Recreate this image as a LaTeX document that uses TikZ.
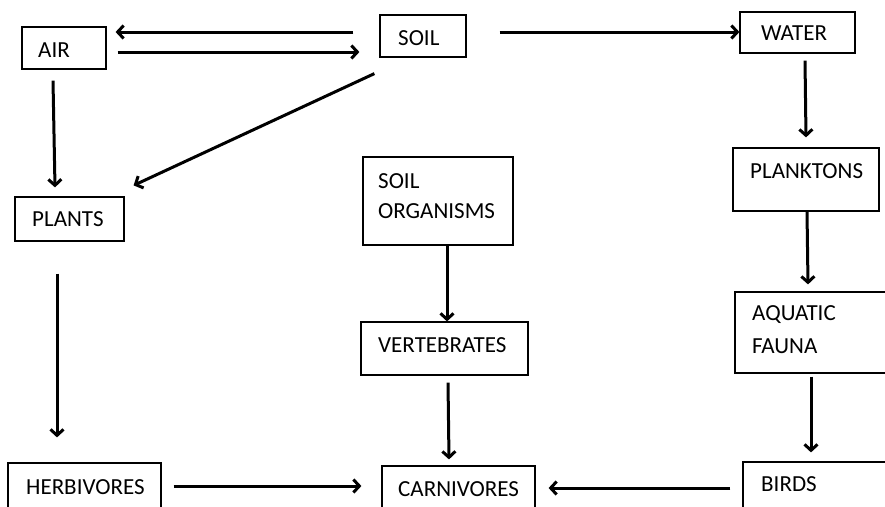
\documentclass[tikz,border=0pt]{standalone}
\usepackage{fontspec}
\setmainfont{Carlito}
\usetikzlibrary{arrows.meta}
\begin{document}
\begin{tikzpicture}[x=1pt,y=-1pt,
  box/.style={draw=black, line width=1.2pt, rectangle, inner sep=0pt},
  txt/.style={inner sep=0pt, anchor=base west, align=left, font=\fontsize{23}{30}\selectfont},
  arr/.style={line width=3pt, -{Straight Barb[length=6pt,width=13pt]}}]
\useasboundingbox (0,0) rectangle (885,506);
\fill[white] (0,0) rectangle (885,506);
\clip (0,0) rectangle (885,506);
% boxes
\node[box, minimum width=84pt,  minimum height=42pt] (air)     at (64,48) {};
\node[box, minimum width=86pt,  minimum height=42pt] (soil)    at (423,36) {};
\node[box, minimum width=115pt, minimum height=41pt] (water)   at (797.5,32.5) {};
\node[box, minimum width=146pt, minimum height=63pt] (plankt)  at (806,179.5) {};
\node[box, minimum width=170pt, minimum height=81pt] (aqua)    at (820,332.5) {};
\node[box, minimum width=162pt, minimum height=68pt] (birds)   at (824,496) {};
\node[box, minimum width=109pt, minimum height=44pt] (plants)  at (69.5,219) {};
\node[box, minimum width=150pt, minimum height=88pt] (soilorg) at (438,201) {};
\node[box, minimum width=167pt, minimum height=53pt] (vert)    at (444.5,348.5) {};
\node[box, minimum width=153pt, minimum height=67pt] (herb)    at (84.5,496.5) {};
\node[box, minimum width=153pt, minimum height=64pt] (carn)    at (458.5,498) {};
% texts
\node[txt] (airt)     at (38,57)   {AIR};
\node[txt] (soilt)    at (398,45)  {SOIL};
\node[txt] (watert)   at (761,40)  {WATER};
\node[txt] (planktt)  at (750,178) {PLANKTONS};
\node[txt] (aquat1)   at (752,320) {AQUATIC};
\node[txt] (aquat2)   at (752,353) {FAUNA};
\node[txt] (birdst)   at (761,491) {BIRDS};
\node[txt] (plantst)  at (32,226)  {PLANTS};
\node[txt] (soilorgt1) at (378,188) {SOIL};
\node[txt] (soilorgt2) at (378,218) {ORGANISMS};
\node[txt] (vertt)    at (378,352) {VERTEBRATES};
\node[txt] (herbt)    at (26,494)  {HERBIVORES};
\node[txt] (carnt)    at (398,496) {CARNIVORES};
% connectors
\draw[arr] ([shift={(-26,-4)}]soil.west) -- ([shift={(9,-16)}]air.east);
\draw[arr] ([shift={(11,4)}]air.east) -- ([shift={(-20,16)}]soil.west);
\draw[arr] ([shift={(-5,16)}]soil.south west) -- ([shift={(9,-11)}]plants.north east);
\draw[arr] ([shift={(33,-4)}]soil.east) -- ([shift={(0,-0.5)}]water.west);
\draw[arr] ([shift={(-11,11)}]air.south) -- ([shift={(-14.5,-9)}]plants.north);
\draw[arr] ([shift={(-12.5,32)}]plants.south) -- ([shift={(-27.5,-25)}]herb.north);
\draw[arr] ([shift={(9,0)}]soilorg.south) -- ([shift={(2.5,0)}]vert.north);
\draw[arr] ([shift={(3.5,7)}]vert.south) -- ([shift={(-9.5,-6)}]carn.north);
\draw[arr] ([shift={(7.5,7)}]water.south) -- ([shift={(0,-10)}]plankt.north);
\draw[arr] ([shift={(1,0)}]plankt.south) -- ([shift={(-12,-7)}]aqua.north);
\draw[arr] ([shift={(-9,3)}]aqua.south) -- ([shift={(-13,-9)}]birds.north);
\draw[arr] ([shift={(12,-10.5)}]herb.east) -- ([shift={(-20,-12)}]carn.west);
\draw[arr] ([shift={(-12,-8)}]birds.west) -- ([shift={(13,-10)}]carn.east);
\end{tikzpicture}
\end{document}
